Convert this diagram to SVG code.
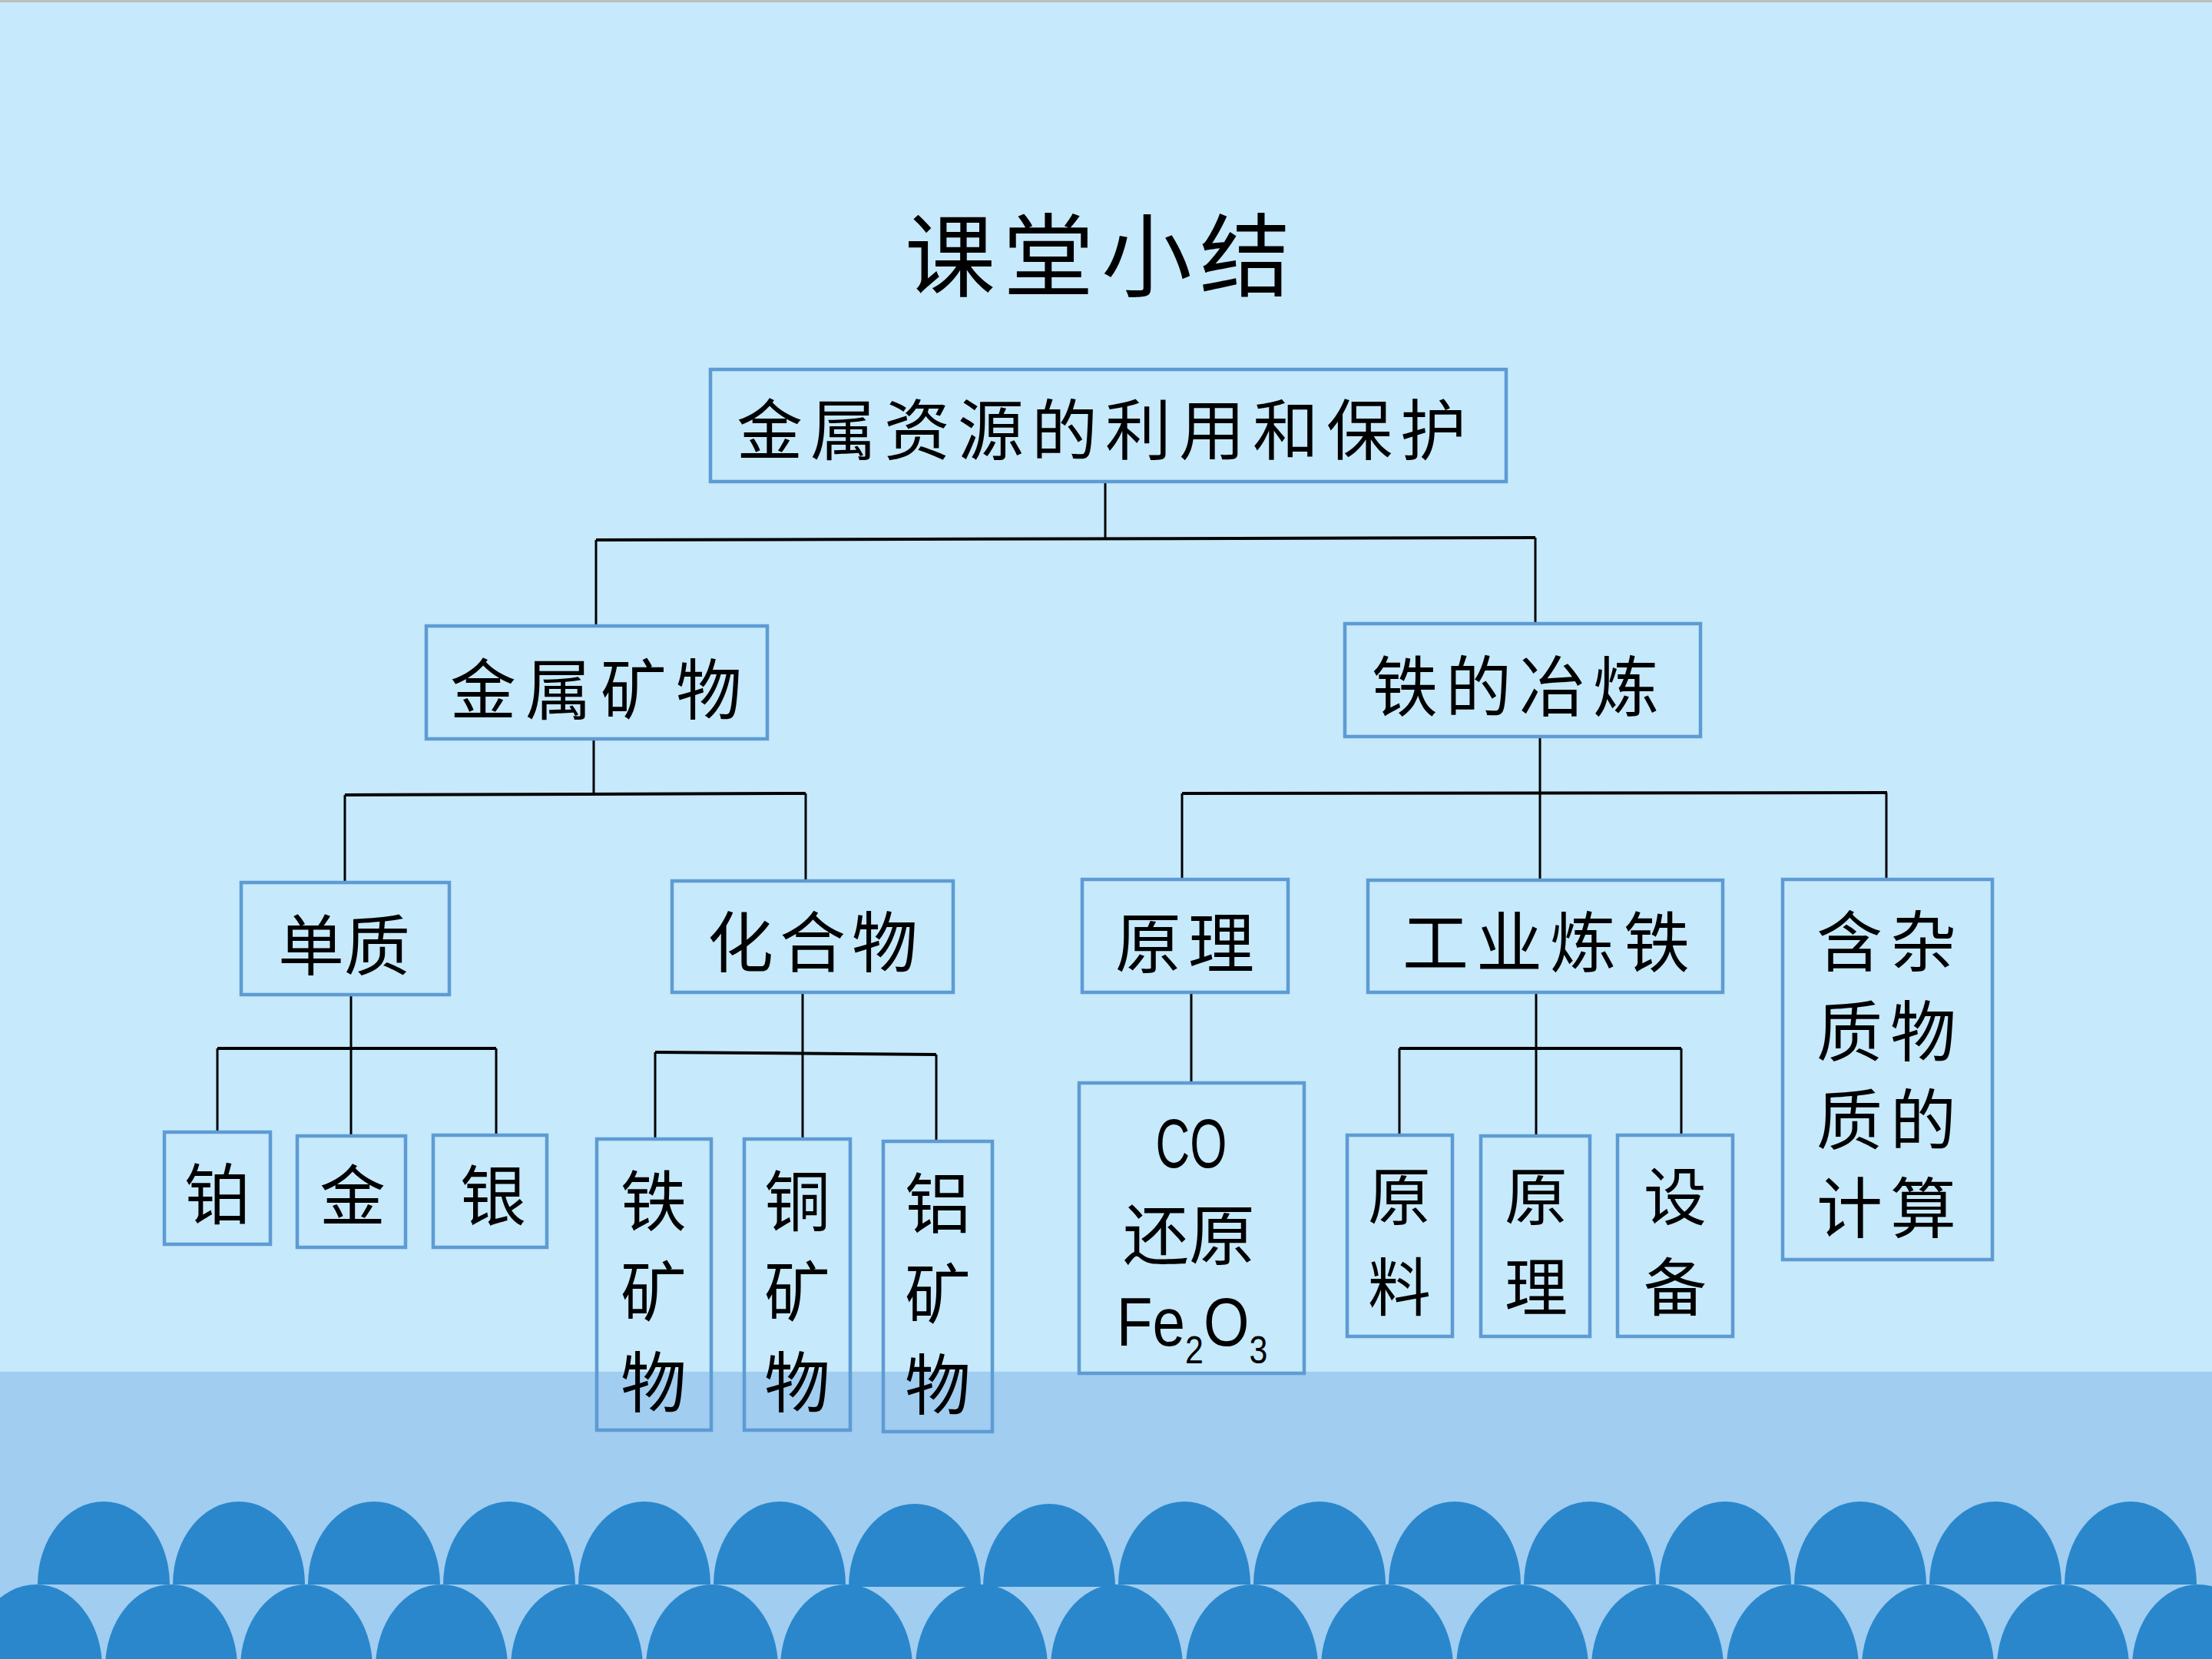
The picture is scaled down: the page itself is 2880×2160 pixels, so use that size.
<svg xmlns="http://www.w3.org/2000/svg" xmlns:xlink="http://www.w3.org/1999/xlink" width="2880" height="2160" viewBox="0 0 2880 2160">
<style>
.n rect{fill:none;stroke:#5E9BD4;stroke-width:4.5}
.t{font-family:"Noto Sans CJK SC","Noto Sans CJK TC",sans-serif;font-size:86px;fill:#000;text-anchor:middle}
.t2{font-size:82px}
.ti{font-family:"Noto Sans CJK SC","Noto Sans CJK TC",sans-serif;font-size:118px;fill:#000;text-anchor:middle;letter-spacing:10px}
.lat{font-family:"Liberation Sans",Arial,sans-serif;fill:#000;text-anchor:middle}
#connectors line{stroke:#000;stroke-width:3;fill:none}
#connectors line.h{stroke-width:4}
.dome{fill:#2A87CC}
</style>
<defs>
<path id="dt" d="M-86 0A86 108 0 0 1 86 0Z"/>
<ellipse id="db" cx="0" cy="0" rx="86" ry="108"/>
</defs>
<!-- background -->
<rect x="0" y="0" width="2880" height="2160" fill="#C6E9FB"/>
<rect x="0" y="0" width="2880" height="3" fill="#BEBEBE"/>
<rect x="0" y="1786" width="2880" height="374" fill="#A0CDF0"/>
<g class="dome">
<use xlink:href="#db" x="47" y="2171"/><use xlink:href="#db" x="223" y="2171"/><use xlink:href="#db" x="399" y="2171"/><use xlink:href="#db" x="575" y="2171"/><use xlink:href="#db" x="751" y="2171"/><use xlink:href="#db" x="927" y="2171"/><use xlink:href="#db" x="1102" y="2171"/><use xlink:href="#db" x="1278" y="2171"/><use xlink:href="#db" x="1454" y="2171"/><use xlink:href="#db" x="1630" y="2171"/><use xlink:href="#db" x="1806" y="2171"/><use xlink:href="#db" x="1982" y="2171"/><use xlink:href="#db" x="2158" y="2171"/><use xlink:href="#db" x="2334" y="2171"/><use xlink:href="#db" x="2510" y="2171"/><use xlink:href="#db" x="2686" y="2171"/><use xlink:href="#db" x="2862" y="2171"/>
<use xlink:href="#dt" x="135" y="2063"/><use xlink:href="#dt" x="311" y="2063"/><use xlink:href="#dt" x="487" y="2063"/><use xlink:href="#dt" x="663" y="2063"/><use xlink:href="#dt" x="839" y="2063"/><use xlink:href="#dt" x="1015" y="2063"/><use xlink:href="#dt" x="1191" y="2066"/><use xlink:href="#dt" x="1366" y="2066"/><use xlink:href="#dt" x="1542" y="2063"/><use xlink:href="#dt" x="1718" y="2063"/><use xlink:href="#dt" x="1894" y="2063"/><use xlink:href="#dt" x="2070" y="2063"/><use xlink:href="#dt" x="2246" y="2063"/><use xlink:href="#dt" x="2422" y="2063"/><use xlink:href="#dt" x="2598" y="2063"/><use xlink:href="#dt" x="2774" y="2063"/>
</g>
<!-- title -->
<text class="ti" x="1434" y="377">课堂小结</text>
<!-- connectors -->
<g id="connectors">
<line x1="1439" y1="627" x2="1439" y2="702"/>
<line class="h" x1="776" y1="703" x2="1999" y2="700"/>
<line x1="776" y1="703" x2="776" y2="815"/>
<line x1="1999" y1="700" x2="1999" y2="812"/>
<line x1="773" y1="962" x2="773" y2="1034"/>
<line class="h" x1="449" y1="1035" x2="1049" y2="1033"/>
<line x1="449" y1="1035" x2="449" y2="1149"/>
<line x1="1049" y1="1033" x2="1049" y2="1147"/>
<line x1="2005" y1="959" x2="2005" y2="1146"/>
<line class="h" x1="1539" y1="1033" x2="2457" y2="1032"/>
<line x1="1539" y1="1033" x2="1539" y2="1145"/>
<line x1="2456" y1="1032" x2="2456" y2="1145"/>
<line x1="457" y1="1295" x2="457" y2="1479"/>
<line class="h" x1="283" y1="1365" x2="646" y2="1365"/>
<line x1="283" y1="1365" x2="283" y2="1474"/>
<line x1="646" y1="1365" x2="646" y2="1479"/>
<line x1="1045" y1="1292" x2="1045" y2="1483"/>
<line class="h" x1="853" y1="1370" x2="1219" y2="1373"/>
<line x1="853" y1="1370" x2="853" y2="1483"/>
<line x1="1219" y1="1373" x2="1219" y2="1486"/>
<line x1="1551" y1="1292" x2="1551" y2="1410"/>
<line x1="2000" y1="1292" x2="2000" y2="1479"/>
<line class="h" x1="1822" y1="1365" x2="2189" y2="1365"/>
<line x1="1822" y1="1365" x2="1822" y2="1478"/>
<line x1="2189" y1="1365" x2="2189" y2="1478"/>
</g>
<!-- nodes -->
<g id="n-root" class="n"><rect x="925" y="481" width="1036" height="146"/><text class="t" x="1439" y="592" letter-spacing="10">金属资源的利用和保护</text></g>
<g id="n-kuangwu" class="n"><rect x="555" y="815" width="444" height="147"/><text class="t" x="782" y="930" letter-spacing="12">金属矿物</text></g>
<g id="n-yelian" class="n"><rect x="1751" y="812" width="463" height="147"/><text class="t" x="1978" y="926" letter-spacing="10">铁的冶炼</text></g>
<g id="n-danzhi" class="n"><rect x="314" y="1149" width="271" height="146"/><text class="t" x="448" y="1263">单质</text></g>
<g id="n-huahewu" class="n"><rect x="875" y="1147" width="366" height="145"/><text class="t" x="1062" y="1259" letter-spacing="8">化合物</text></g>
<g id="n-bo" class="n"><rect x="214" y="1474" width="138" height="146"/><text class="t" x="283" y="1587">铂</text></g>
<g id="n-jin" class="n"><rect x="387" y="1479" width="141" height="145"/><text class="t" x="459" y="1589">金</text></g>
<g id="n-yin" class="n"><rect x="564" y="1478" width="148" height="146"/><text class="t" x="642" y="1589">银</text></g>
<g id="n-tiekuang" class="n"><rect x="777" y="1483" width="149" height="379"/><text class="t"><tspan x="851" y="1596">铁</tspan><tspan x="851" y="1714">矿</tspan><tspan x="851" y="1832">物</tspan></text></g>
<g id="n-tongkuang" class="n"><rect x="969" y="1483" width="138" height="379"/><text class="t"><tspan x="1038" y="1596">铜</tspan><tspan x="1038" y="1714">矿</tspan><tspan x="1038" y="1832">物</tspan></text></g>
<g id="n-lvkuang" class="n"><rect x="1150" y="1486" width="142" height="378"/><text class="t"><tspan x="1221" y="1599">铝</tspan><tspan x="1221" y="1717">矿</tspan><tspan x="1221" y="1835">物</tspan></text></g>
<g id="n-yuanli" class="n"><rect x="1409" y="1145" width="268" height="147"/><text class="t" x="1547" y="1260" letter-spacing="9">原理</text></g>
<g id="n-gongye" class="n"><rect x="1781" y="1146" width="462" height="146"/><text class="t" x="2018" y="1259" letter-spacing="10">工业炼铁</text></g>
<g id="n-zazhi" class="n"><rect x="2321" y="1145" width="273" height="495"/><text class="t" letter-spacing="10"><tspan x="2461" y="1258">含杂</tspan><tspan x="2461" y="1375">质物</tspan><tspan x="2461" y="1490">质的</tspan><tspan x="2461" y="1605">计算</tspan></text></g>
<g id="n-co" class="n"><rect x="1405" y="1410" width="293" height="378"/>
<text class="lat" font-size="91" transform="translate(1551 1520) scale(0.68 1)" x="0" y="0">CO</text>
<text class="t" x="1548" y="1640">还原</text>
<text class="lat" font-size="89" transform="translate(1552 1752) scale(0.86 1)" x="0" y="0">Fe<tspan font-size="50" dy="23">2</tspan><tspan dy="-23">O</tspan><tspan font-size="50" dy="23">3</tspan></text>
</g>
<g id="n-yuanliao" class="n"><rect x="1754" y="1478" width="137" height="262"/><text class="t t2"><tspan x="1822" y="1588">原</tspan><tspan x="1822" y="1706">料</tspan></text></g>
<g id="n-yuanli2" class="n"><rect x="1928" y="1479" width="142" height="261"/><text class="t t2"><tspan x="2000" y="1588">原</tspan><tspan x="2000" y="1706">理</tspan></text></g>
<g id="n-shebei" class="n"><rect x="2106" y="1478" width="150" height="262"/><text class="t t2"><tspan x="2181" y="1588">设</tspan><tspan x="2181" y="1706">备</tspan></text></g>
</svg>
